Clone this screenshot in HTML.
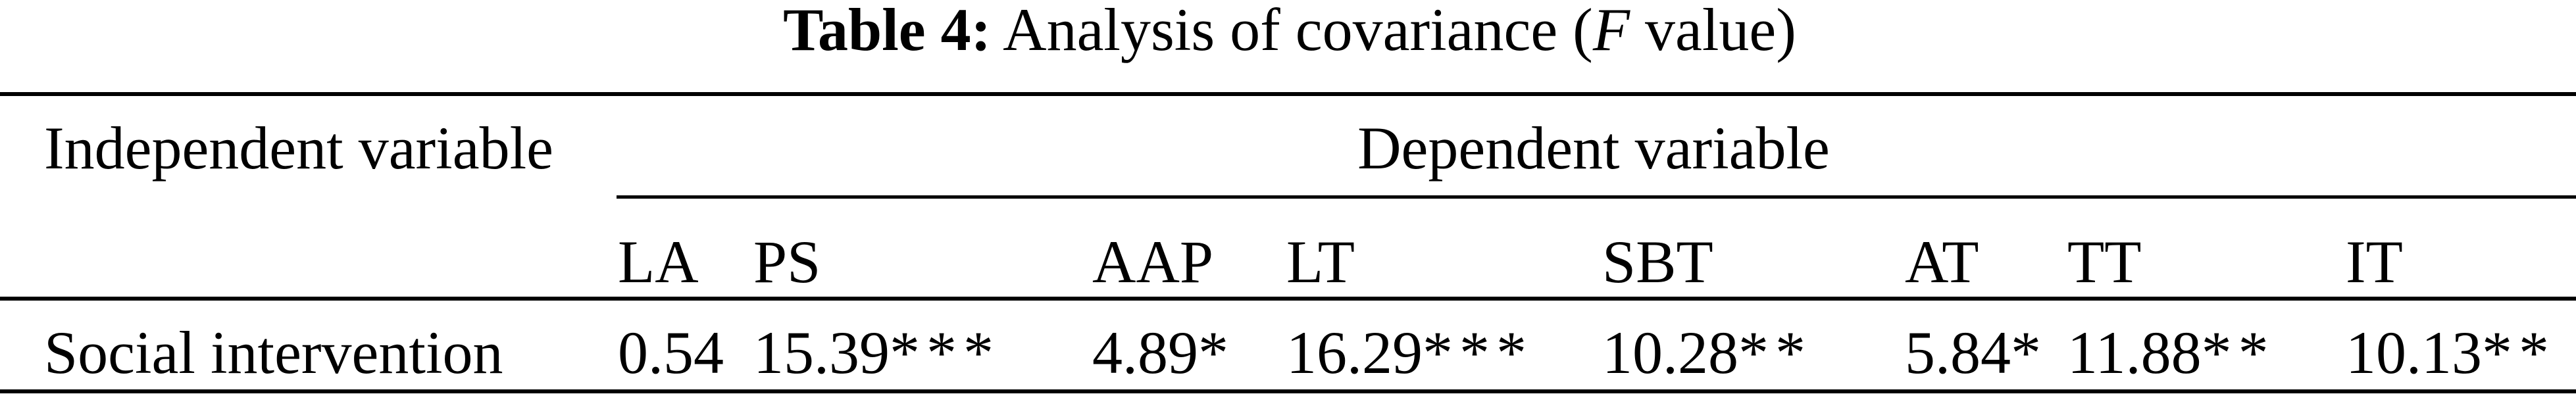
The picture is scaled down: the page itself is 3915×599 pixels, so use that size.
<!DOCTYPE html>
<html><head><meta charset="utf-8"><style>html,body{margin:0;padding:0;background:#fff;}svg{display:block}.s{letter-spacing:10px}</style></head>
<body>
<svg width="3915" height="599" viewBox="0 0 3915 599" xmlns="http://www.w3.org/2000/svg" font-family="'Liberation Serif', serif" font-size="92" fill="#000">
<text x="1960" y="76" text-anchor="middle"><tspan font-weight="bold">Table 4:</tspan>  Analysis of covariance (<tspan font-style="italic">F</tspan> value)</text>
<rect x="0" y="140" width="3915" height="6"/>
<text x="67" y="256">Independent variable</text>
<text x="2422" y="256" text-anchor="middle">Dependent variable</text>
<rect x="937" y="297" width="2978" height="5"/>
<g>
<text x="939" y="429">LA</text>
<text x="1145" y="429">PS</text>
<text x="1660" y="429">AAP</text>
<text x="1955" y="429">LT</text>
<text x="2435" y="429">SBT</text>
<text x="2895" y="429">AT</text>
<text x="3142" y="429">TT</text>
<text x="3565" y="429">IT</text>
</g>
<rect x="0" y="451" width="3915" height="6"/>
<text x="67" y="567">Social intervention</text>
<g>
<text x="939" y="567">0.54</text>
<text x="1145" y="567">15.39<tspan class="s">***</tspan></text>
<text x="1660" y="567">4.89<tspan class="s">*</tspan></text>
<text x="1955" y="567">16.29<tspan class="s">***</tspan></text>
<text x="2435" y="567">10.28<tspan class="s">**</tspan></text>
<text x="2895" y="567">5.84<tspan class="s">*</tspan></text>
<text x="3142" y="567">11.88<tspan class="s">**</tspan></text>
<text x="3565" y="567">10.13<tspan class="s">**</tspan></text>
</g>
<rect x="0" y="592" width="3915" height="6"/>
</svg>
</body></html>
